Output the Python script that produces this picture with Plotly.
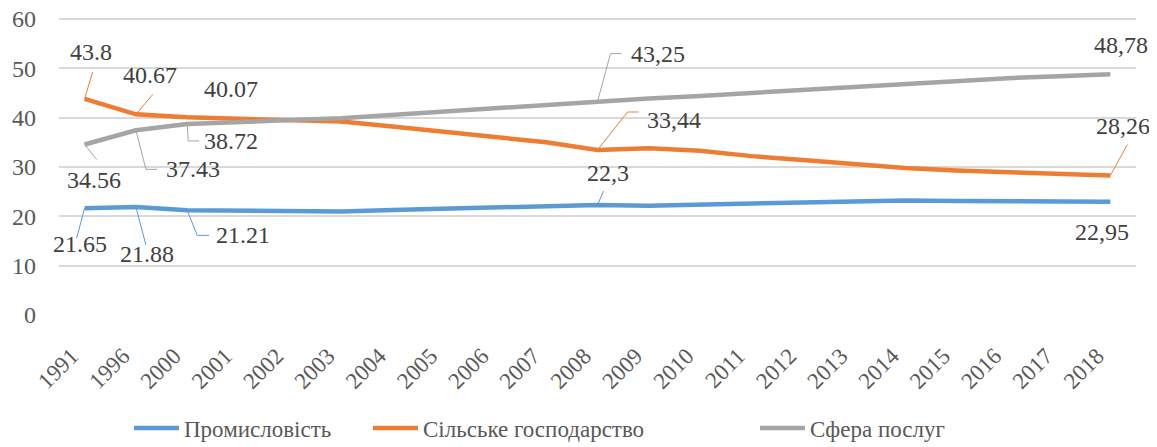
import plotly.graph_objects as go

years = ["1991", "1996", "2000", "2001", "2002", "2003", "2004", "2005", "2006", "2007",
         "2008", "2009", "2010", "2011", "2012", "2013", "2014", "2015", "2016", "2017", "2018"]

industry = [21.65, 21.88, 21.21, 21.1, 20.95, 21.0, 21.3, 21.6, 21.9, 22.2,
            22.3, 22.15, 22.3, 22.6, 22.8, 23.0, 23.2, 23.1, 23.05, 23.0, 22.95]
agriculture = [43.8, 40.67, 40.07, 39.8, 39.5, 39.2, 38.2, 37.2, 36.0, 35.0,
               33.44, 33.8, 33.3, 32.2, 31.4, 30.6, 29.8, 29.3, 28.9, 28.5, 28.26]
services = [34.56, 37.43, 38.72, 39.2, 39.5, 39.9, 40.6, 41.2, 41.9, 42.6,
            43.25, 43.9, 44.4, 45.0, 45.6, 46.3, 47.0, 47.6, 48.0, 48.4, 48.78]

series_names = ["Промисловість", "Сільське господарство", "Сфера послуг"]
colors = ["#5B9BD5", "#ED7D31", "#A5A5A5"]
y_ticks = [0, 10, 20, 30, 40, 50, 60]

# data labels: (series index, year index, text)
label_points = [
    (1, 0, "43.8"), (1, 1, "40.67"), (1, 2, "40.07"),
    (2, 2, "38.72"), (2, 1, "37.43"), (2, 0, "34.56"),
    (0, 0, "21.65"), (0, 1, "21.88"), (0, 2, "21.21"),
    (2, 10, "43,25"), (1, 10, "33,44"), (0, 10, "22,3"),
    (2, 20, "48,78"), (1, 20, "28,26"), (0, 20, "22,95"),
]
# label offsets in pixels (dx right, dy up) and leader paths (pixels, up positive)
label_offsets = [
    (6, 47), (14, 39), (44, 28),
    (44, -17), (57, -39), (9, -36),
    (-5, -36), (11, -47), (56, -25),
    (60, 48), (76, 30), (10, 32),
    (11, 29), (13, 50), (-8, -30),
]
leaders = [
    "M0,0 L8,27", "M0,0 L17,20", None,
    "M0,0 L1,-17 L12,-17", "M0,0 L10,-39 L21,-39", "M0,0 L12,-15",
    "M0,0 L-8,-30", "M0,0 L10,-38", "M0,0 L10,-25 L22,-25",
    "M0,0 L13,48 L24,48", "M0,0 L30,38 L41,38", "M0,0 L6,14",
    None, "M0,0 L17,31", None,
]

data = [industry, agriculture, services]
FONT = "Liberation Serif"
W, H = 1149, 439  # page body has an 8px margin inside the 1157x447 window

legend_ids = ["legend", "legend2", "legend3"]
legend_x = [0.1053, 0.3133, 0.6501]

fig = go.Figure()
for name, vals, col, lg in zip(series_names, data, colors, legend_ids):
    fig.add_trace(go.Scatter(x=years, y=vals, name=name, mode="lines", legend=lg,
                             line=dict(color=col, width=4.5), hoverinfo="skip"))

for (si, yi, txt), (dx, dy), path in zip(label_points, label_offsets, leaders):
    fig.add_annotation(x=yi, y=data[si][yi], xref="x", yref="y", text=txt,
                       showarrow=False, xshift=dx, yshift=dy,
                       xanchor="center", yanchor="middle",
                       font=dict(family=FONT, size=24, color="#404040"))
    if path:
        fig.add_shape(type="path", xref="x", yref="y", xsizemode="pixel", ysizemode="pixel",
                      xanchor=yi, yanchor=data[si][yi], path=path,
                      line=dict(color=colors[si], width=1))

legend_style = dict(orientation="h", xref="container", yref="container",
                    xanchor="left", y=0.0433, yanchor="middle",
                    font=dict(family=FONT, size=23, color="#595959"), itemwidth=45,
                    bgcolor="rgba(0,0,0,0)")
legends = {lg: dict(legend_style, x=lx) for lg, lx in zip(legend_ids, legend_x)}

fig.update_layout(
    width=W, height=H,
    margin=dict(l=51, r=21, t=9, b=132, autoexpand=False),
    paper_bgcolor="white", plot_bgcolor="white",
    font=dict(family=FONT, size=23, color="#595959"),
    showlegend=True,
    **legends,
    xaxis=dict(type="category", range=[-0.5, len(years) - 0.5], tickangle=-45,
               showgrid=False, zeroline=False, showline=False, ticks="", automargin=False,
               ticklabelstandoff=22, ticklabelshift=-13,
               tickfont=dict(family=FONT, size=23, color="#595959")),
    yaxis=dict(range=[0, 60.4], tickvals=y_ticks, showgrid=True,
               gridcolor="#D9D9D9", gridwidth=1.5, ticklabeloverflow="allow",
               zeroline=False, showline=False, ticks="", ticklabelstandoff=22, automargin=False,
               tickfont=dict(family=FONT, size=24, color="#595959")),
)

fig.write_html("out.html")
